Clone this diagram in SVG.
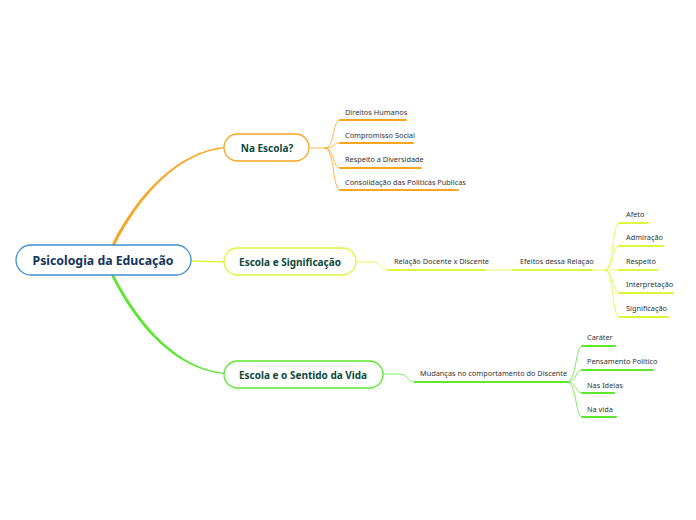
<svg xmlns="http://www.w3.org/2000/svg" width="696" height="520" viewBox="0 0 696 520">
<style>
.t{font-family:"Noto Sans","Open Sans","DejaVu Sans",sans-serif;font-weight:bold;fill:#0e4a3c;font-size:10px;text-anchor:middle}
.r{font-family:"Noto Sans","Open Sans","DejaVu Sans",sans-serif;font-weight:bold;fill:#13345e;font-size:12.3px;text-anchor:middle}
.s{font-family:"Noto Sans","Open Sans","DejaVu Sans",sans-serif;fill:#333;font-size:7.35px}
.c{fill:none;stroke-linecap:round}
.o{stroke:#f9a522}
.y{stroke:#dff53c}
.g{stroke:#5ce632}
</style>
<rect width="696" height="520" fill="#fff"/>
<g id="connectors">
<path d="M111,246 C138,192 178,152 224,147 L224,148.2 C179,153.5 140,194 114,247 Z" fill="#f9a522"/>
<path d="M191,261 L224,262" class="c y" stroke-width="1.3"/>
<path d="M111,275 C138,330 178,370 224,374 L224,372.8 C180,368.5 141,328 114,275 Z" fill="#5ce632"/>
<g class="c o" stroke-width="0.8">
<path d="M310,148 L325,148 C335,148 332,120 340,120"/>
<path d="M325,148 C335,148 332,143 340,143"/>
<path d="M325,148 C335,148 332,168 340,168"/>
<path d="M325,148 C335,148 332,190 340,190"/>
</g>
<g class="c o" stroke-width="2">
<path d="M340,120 L406,120"/>
<path d="M340,143 L413,143"/>
<path d="M340,168 L421,168"/>
<path d="M340,190 L458,190"/>
</g>
<g class="c y" stroke-width="0.8">
<path d="M356,262 L372,262 C381,262 380,270 388,270"/>
<path d="M485,270 L513,270"/>
<path d="M592,270 L605,270 C614,270 612,223 619,223"/>
<path d="M605,270 C614,270 612,246 619,246"/>
<path d="M605,270 L619,270"/>
<path d="M605,270 C614,270 612,293 619,293"/>
<path d="M605,270 C614,270 612,317 619,317"/>
</g>
<g class="c y" stroke-width="2">
<path d="M388,270 L485,270"/>
<path d="M513,270 L592,270"/>
<path d="M619,223 L648,223"/>
<path d="M619,246 L663,246"/>
<path d="M619,270 L657,270"/>
<path d="M619,293 L673,293"/>
<path d="M619,317 L668,317"/>
</g>
<g class="c g" stroke-width="0.8">
<path d="M383,374 L399,374 C408,374 407,382 415,382"/>
<path d="M567,382 C577,382 575,346 582,346"/>
<path d="M567,382 C577,382 575,370 582,370"/>
<path d="M567,382 C577,382 575,393 582,393"/>
<path d="M567,382 C577,382 575,417 582,417"/>
</g>
<g class="c g" stroke-width="2">
<path d="M415,382 L567,382"/>
<path d="M582,346 L615,346"/>
<path d="M582,370 L653,370"/>
<path d="M582,393 L614,393"/>
<path d="M582,417 L616,417"/>
</g>
</g>
<g id="root">
<rect x="16" y="245" width="175" height="30" rx="15" fill="#fff" stroke="#3b8fd0" stroke-width="1.3"/>
<text x="103" y="264.5" class="r">Psicologia da Educação</text>
</g>
<g id="na-escola">
<rect x="224" y="134" width="85" height="27" rx="13.5" fill="#fff" stroke="#f9a522" stroke-width="1.3"/>
<text x="267" y="151.5" class="t">Na Escola?</text>
</g>
<g id="escola-significacao">
<rect x="224" y="248" width="132" height="27" rx="13.5" fill="#fff" stroke="#dff53c" stroke-width="1.3"/>
<text x="290" y="265.5" class="t">Escola e Significação</text>
</g>
<g id="escola-sentido">
<rect x="224" y="361" width="159" height="27" rx="13.5" fill="#fff" stroke="#5ce632" stroke-width="1.3"/>
<text x="303" y="378.5" class="t">Escola e o Sentido da Vida</text>
</g>
<g id="direitos"><text x="345" y="115" class="s">Direitos Humanos</text></g>
<g id="compromisso"><text x="345" y="138" class="s">Compromisso Social</text></g>
<g id="respeito-div"><text x="345" y="162" class="s">Respeito a Diversidade</text></g>
<g id="consolidacao"><text x="345" y="185" class="s">Consolidação das Politicas Publicas</text></g>
<g id="relacao"><text x="394" y="264" class="s">Relação Docente x Discente</text></g>
<g id="efeitos"><text x="520" y="264" class="s">Efeitos dessa Relaçao</text></g>
<g id="afeto"><text x="626" y="217" class="s">Afeto</text></g>
<g id="admiracao"><text x="626" y="240" class="s">Admiração</text></g>
<g id="respeito"><text x="626" y="264" class="s">Respeito</text></g>
<g id="interpretacao"><text x="626" y="287" class="s">Interpretação</text></g>
<g id="significacao"><text x="626" y="311" class="s">Significação</text></g>
<g id="mudancas"><text x="420" y="376" class="s">Mudanças no comportamento do Discente</text></g>
<g id="carater"><text x="587" y="340" class="s">Caráter</text></g>
<g id="pensamento"><text x="587" y="364" class="s">Pensamento Politico</text></g>
<g id="ideias"><text x="587" y="388" class="s">Nas Ideias</text></g>
<g id="vida"><text x="587" y="412" class="s">Na vida</text></g>
</svg>
